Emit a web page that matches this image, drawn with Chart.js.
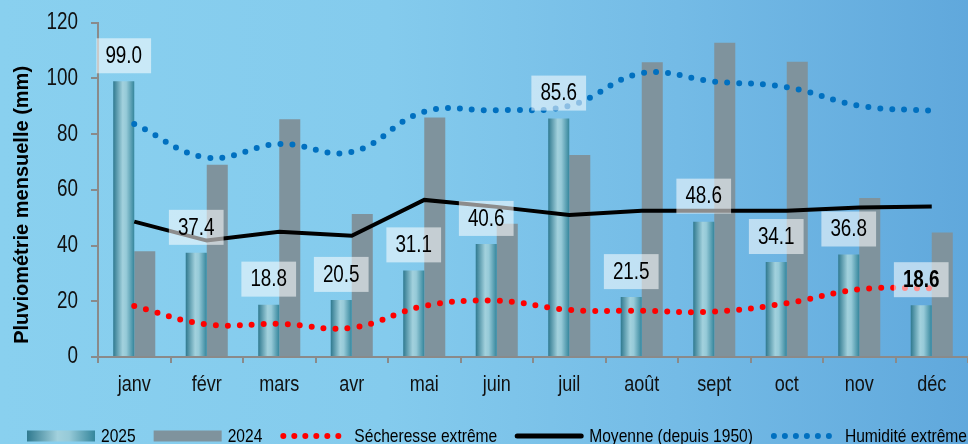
<!DOCTYPE html>
<html>
<head>
<meta charset="utf-8">
<script src="https://cdn.jsdelivr.net/npm/chart.js@4.4.1/dist/chart.umd.min.js"></script>
<style>
  html, body { margin: 0; padding: 0; }
  #wrap {
    position: relative; width: 968px; height: 444px; overflow: hidden;
    background: linear-gradient(90deg, #89d0ef 0%, #84cbed 40%, #74bbe6 70%, #60a8dc 100%);
  }
  #c { position: absolute; left: 0; top: 0; }
</style>
</head>
<body>
<div id="wrap">
  <canvas id="c" width="968" height="444"></canvas>
</div>
<script>
const months = ['janv','févr','mars','avr','mai','juin','juil','août','sept','oct','nov','déc'];
const rain2025 = [99.0, 37.4, 18.8, 20.5, 31.1, 40.6, 85.6, 21.5, 48.6, 34.1, 36.8, 18.6];
const rain2024 = [38.0, 69.0, 85.4, 51.3, 86.0, 47.8, 72.5, 105.8, 112.8, 106.0, 57.1, 44.7];
const moyenne = [48.6, 41.8, 45.0, 43.5, 56.4, 53.9, 51.0, 52.5, 52.5, 52.5, 53.7, 54.0];
const secheresse = [18.3, 11.7, 11.9, 10.5, 18.3, 20.2, 16.9, 16.6, 16.3, 19.3, 24.3, 24.7];
const humidite = [83.7, 71.6, 76.5, 73.6, 88.1, 88.6, 90.2, 101.9, 98.9, 96.9, 90.2, 88.4];
const yTicks = [0, 20, 40, 60, 80, 100, 120];
const seriesLabels = ['2025', '2024', 'Sécheresse extrême', 'Moyenne (depuis 1950)', 'Humidité extrême'];
const yTitle = 'Pluviométrie mensuelle (mm)';

const FONT = "'Liberation Sans', Arial, sans-serif";
const CAT_PCT = 0.58;
let SX = 0.82; // horizontal condensation to mimic a narrow typeface

// condensed text rendering on the chart's 2D context
const canvas = document.getElementById('c');
const ctx2d = canvas.getContext('2d');
const origFill = ctx2d.fillText.bind(ctx2d);
const origMeasure = ctx2d.measureText.bind(ctx2d);
ctx2d.fillText = function (t, x, y, mw) {
  this.save();
  this.translate(x, y);
  this.scale(SX, 1);
  if (mw !== undefined && mw !== null) origFill(t, 0, 0, mw / SX); else origFill(t, 0, 0);
  this.restore();
};
ctx2d.measureText = function (t) {
  const m = origMeasure(t);
  return {
    width: m.width * SX,
    actualBoundingBoxAscent: m.actualBoundingBoxAscent,
    actualBoundingBoxDescent: m.actualBoundingBoxDescent,
    actualBoundingBoxLeft: m.actualBoundingBoxLeft * SX,
    actualBoundingBoxRight: m.actualBoundingBoxRight * SX,
    fontBoundingBoxAscent: m.fontBoundingBoxAscent,
    fontBoundingBoxDescent: m.fontBoundingBoxDescent
  };
};

function bar2025Gradient(c2, left, right) {
  const g = c2.createLinearGradient(left, 0, right, 0);
  g.addColorStop(0, '#2f798f');
  g.addColorStop(0.45, '#a2d1dd');
  g.addColorStop(0.62, '#96cad8');
  g.addColorStop(1, '#35869c');
  return g;
}

function barGradient(ctx) {
  const chart = ctx.chart;
  if (ctx.type !== 'data' || !chart.chartArea) return '#5fa3b6';
  const xs = chart.scales.x;
  const cx = xs.getPixelForValue(ctx.dataIndex);
  const cw = xs.width / months.length;
  const bw = cw * CAT_PCT / 2;
  return bar2025Gradient(chart.ctx, cx - bw, cx);
}

const labelPlugin = {
  id: 'valueBoxes',
  afterDatasetsDraw(chart) {
    const meta = chart.getDatasetMeta(0);
    const ctx = chart.ctx;
    ctx.save();
    meta.data.forEach((bar, i) => {
      const txt = rain2025[i].toFixed(1);
      const bold = i === months.length - 1;
      ctx.font = (bold ? 'bold ' : '') + '23px ' + FONT;
      const tw = ctx.measureText(txt).width;
      const w = tw + 18, h = 35;
      const bottom = bar.y - 8;
      ctx.fillStyle = 'rgba(255,255,255,0.55)';
      ctx.fillRect(bar.x - w / 2, bottom - h, w, h);
      ctx.fillStyle = '#000';
      ctx.textAlign = 'center';
      ctx.textBaseline = 'middle';
      ctx.fillText(txt, bar.x, bottom - h / 2 + 1);
    });
    ctx.restore();
  }
};

const titleAndLegendPlugin = {
  id: 'titleLegend',
  afterDraw(chart) {
    const ctx = chart.ctx;
    const area = chart.chartArea;
    // y axis title (regular width bold)
    ctx.save();
    SX = 1;
    ctx.font = 'bold 20px ' + FONT;
    ctx.fillStyle = '#000';
    ctx.textAlign = 'center';
    ctx.textBaseline = 'middle';
    ctx.translate(22, (area.top + area.bottom) / 2 + 15);
    ctx.rotate(-Math.PI / 2);
    ctx.fillText(yTitle, 0, 0);
    SX = 0.82;
    ctx.restore();

    // legend
    ctx.save();
    ctx.font = '19px ' + FONT;
    ctx.textBaseline = 'middle';
    ctx.textAlign = 'left';
    const yMid = 436, sw = 68, sh = 11;
    let x = 27;
    chart.data.datasets.forEach((ds, i) => {
      if (i === 0) {
        ctx.fillStyle = bar2025Gradient(ctx, x, x + sw);
        ctx.fillRect(x, yMid - sh / 2, sw, sh);
      } else if (i === 1) {
        ctx.fillStyle = ds.backgroundColor;
        ctx.fillRect(x, yMid - sh / 2, sw, sh);
      } else {
        ctx.beginPath();
        ctx.strokeStyle = ds.borderColor;
        ctx.lineCap = 'round';
        if (ds.borderDash) {
          ctx.lineWidth = 6;
          ctx.setLineDash([0, 11]);
          ctx.moveTo(x + 3, yMid);
          ctx.lineTo(x + 62, yMid);
        } else {
          ctx.lineWidth = 5;
          ctx.setLineDash([]);
          ctx.moveTo(x + 2, yMid);
          ctx.lineTo(x + sw - 2, yMid);
        }
        ctx.stroke();
      }
      ctx.fillStyle = '#000';
      ctx.fillText(ds.label, x + sw + 6, yMid + 1);
      x += sw + 6 + ctx.measureText(ds.label).width + 18;
    });
    ctx.restore();
  }
};

const chart = new Chart(ctx2d, {
  data: {
    labels: months,
    datasets: [
      { type: 'bar', label: seriesLabels[0], data: rain2025, backgroundColor: barGradient,
        categoryPercentage: CAT_PCT, barPercentage: 1.0, order: 3 },
      { type: 'bar', label: seriesLabels[1], data: rain2024, backgroundColor: '#7f939d',
        categoryPercentage: CAT_PCT, barPercentage: 1.0, order: 3 },
      { type: 'line', label: seriesLabels[2], data: secheresse, borderColor: '#ff0000',
        borderWidth: 6, borderDash: [0, 12], borderCapStyle: 'round', tension: 0.4,
        pointRadius: 0, fill: false, order: 1 },
      { type: 'line', label: seriesLabels[3], data: moyenne, borderColor: '#000000',
        borderWidth: 4, tension: 0, pointRadius: 0, fill: false, order: 1 },
      { type: 'line', label: seriesLabels[4], data: humidite, borderColor: '#0070c0',
        borderWidth: 6, borderDash: [0, 12], borderCapStyle: 'round', tension: 0.4,
        pointRadius: 0, fill: false, order: 1 }
    ]
  },
  options: {
    responsive: false,
    animation: false,
    devicePixelRatio: 1,
    layout: { padding: { top: 0, right: 0, left: 0, bottom: 37 } },
    plugins: { legend: { display: false }, tooltip: { enabled: false } },
    scales: {
      x: {
        offset: true,
        grid: { display: true, offset: true, drawOnChartArea: false, tickLength: 6, color: '#8a8a8a', lineWidth: 2 },
        border: { display: true, color: '#8a8a8a', width: 2 },
        ticks: { color: '#111', font: { family: FONT, size: 22 }, padding: 9, maxRotation: 0 },
        afterFit(s) { s.height = 50; }
      },
      y: {
        min: 0, max: 120,
        afterBuildTicks(s) { s.ticks = yTicks.map(v => ({ value: v })); },
        grid: { display: true, drawOnChartArea: false, tickLength: 7, color: '#8a8a8a', lineWidth: 2 },
        border: { display: true, color: '#8a8a8a', width: 2 },
        ticks: { color: '#111', font: { family: FONT, size: 23, lineHeight: 0.85 }, padding: 13 },
        afterFit(s) { s.width = 98; }
      }
    }
  },
  plugins: [labelPlugin, titleAndLegendPlugin]
});
</script>
</body>
</html>
